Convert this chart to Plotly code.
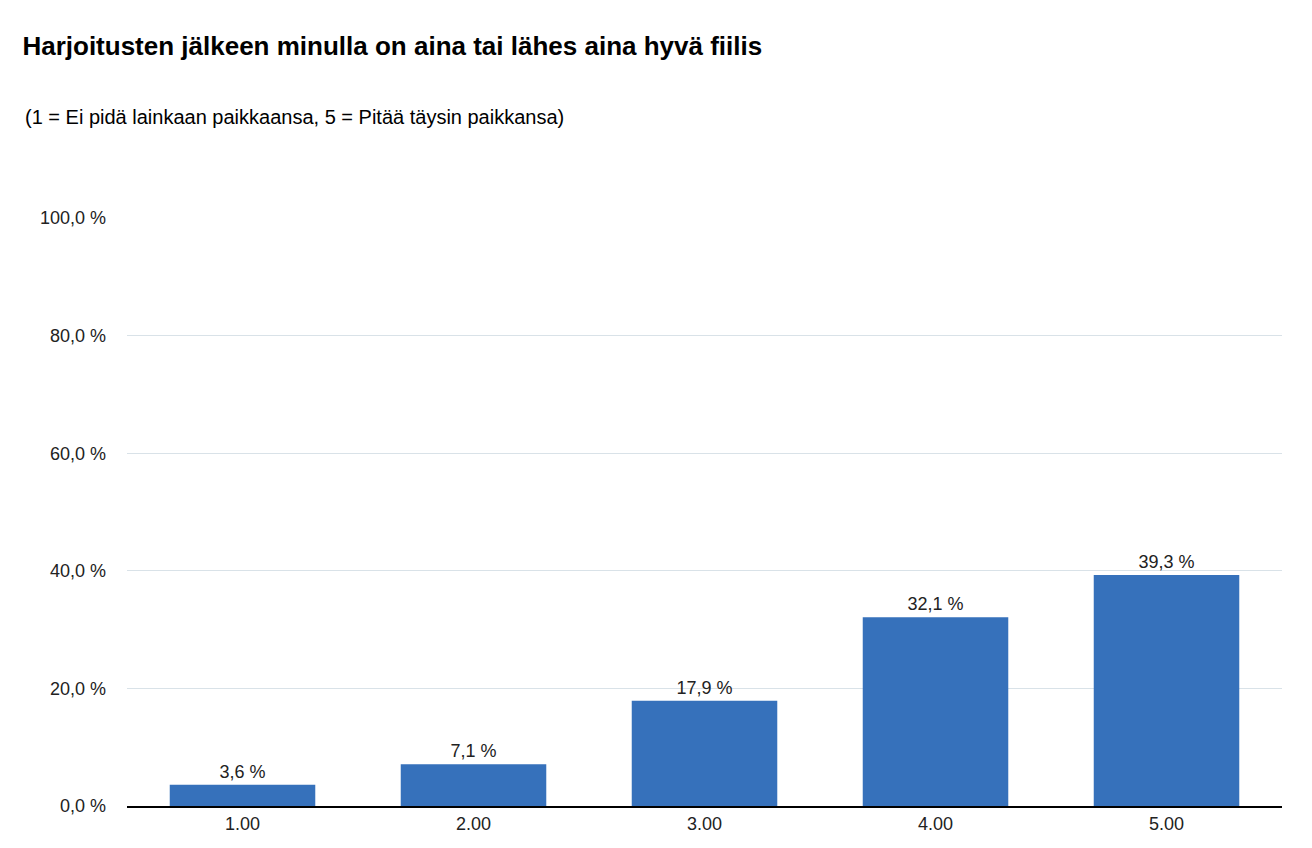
import plotly.graph_objects as go

categories = ["1.00", "2.00", "3.00", "4.00", "5.00"]
values = [3.6, 7.1, 17.9, 32.1, 39.3]
tick_vals = [0, 20, 40, 60, 80, 100]
tick_text = ["0,0 %", "20,0 %", "40,0 %", "60,0 %", "80,0 %", "100,0 %"]

labels = [f"{v:.1f} %".replace(".", ",") for v in values]

fig = go.Figure(go.Bar(
    x=categories, y=values,
    text=labels, textposition="outside",
    textfont=dict(size=18, color="#222"),
    marker=dict(color="#3671bb", line_width=0),
    width=0.63,
    cliponaxis=False,
))

fig.update_layout(
    width=1312, height=848,
    paper_bgcolor="white", plot_bgcolor="white",
    font=dict(family="Liberation Sans, Arial", color="#222"),
    margin=dict(l=119, r=38, t=210, b=50),
    showlegend=False,
    title=dict(text="<b>Harjoitusten jälkeen minulla on aina tai lähes aina hyvä fiilis</b>",
               x=0.011, xanchor="left", y=0.955, yanchor="middle",
               font=dict(size=26, color="black")),
    annotations=[dict(text="(1 = Ei pidä lainkaan paikkaansa, 5 = Pitää täysin paikkansa)",
                      xref="paper", yref="paper", x=-0.09, y=1.172, xanchor="left",
                      yanchor="middle", showarrow=False,
                      font=dict(size=20, color="black"))],
    xaxis=dict(showline=True, linecolor="black", linewidth=2,
               tickfont=dict(size=18), ticks=""),
    yaxis=dict(range=[0, 100], tickvals=tick_vals, ticktext=tick_text,
               gridcolor="#d9e2e8", gridwidth=1, zeroline=False,
               tickfont=dict(size=18), ticklabelstandoff=20),
)

fig.write_html("out.html")
